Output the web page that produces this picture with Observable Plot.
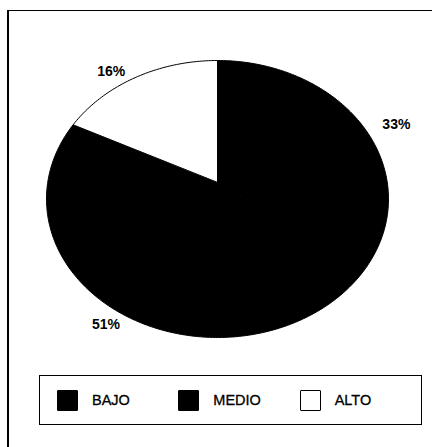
<!DOCTYPE html>
<html>
<head>
<meta charset="utf-8">
<script src="https://cdn.jsdelivr.net/npm/d3@7"></script>
<script src="https://cdn.jsdelivr.net/npm/@observablehq/plot@0.6"></script>
<style>
  html, body { margin: 0; padding: 0; background: #fff; overflow: hidden; }
  body { width: 432px; height: 447px; position: relative; font-family: "Liberation Sans", Arial, Helvetica, sans-serif; }
  #ftop { position: absolute; left: 7px; top: 10px; width: 425px; height: 1px; background: #000; }
  #fleft { position: absolute; left: 7px; top: 10px; width: 2px; height: 437px; background: #000; }
  #chart { position: absolute; left: 0; top: 0; }
  #legend { position: absolute; left: 39px; top: 375px; width: 364px; height: 48px; border: 1.5px solid #000; display: flex; align-items: center; padding-left: 17px; box-sizing: content-box; }
  .item { display: flex; align-items: center; width: 128px; font-size: 14.5px; color: #000; -webkit-text-stroke: 0.3px #000; }
  .sw { width: 21px; height: 21px; border: 1px solid #000; box-sizing: border-box; margin-right: 14px; border-radius: 1px; }
</style>
</head>
<body>
<div id="ftop"></div>
<div id="fleft"></div>
<div id="chart"></div>
<div id="legend"></div>
<script>
const categories = ["BAJO", "MEDIO", "ALTO"];
const values = [33, 51, 16];
const labels = ["33%", "51%", "16%"];
const colors = ["#000000", "#000000", "#ffffff"];

const data = categories.map((c, i) => ({key: c, value: values[i], label: labels[i]}));
const arcs = d3.pie().sort(null).value(d => d.value)(data);

const apexY = 0.12; // slight perspective of the tilted pie
const pts = [];
for (const a of arcs) {
  pts.push({key: a.data.key, x: 0, y: apexY});
  const n = Math.max(2, Math.ceil((a.endAngle - a.startAngle) / (Math.PI / 180)));
  for (let i = 0; i <= n; i++) {
    const t = a.startAngle + (a.endAngle - a.startAngle) * i / n;
    pts.push({key: a.data.key, x: Math.sin(t), y: Math.cos(t)});
  }
  pts.push({key: a.data.key, x: 0, y: apexY});
}

const k = 1.12;
const lab = arcs.map(a => {
  const m = (a.startAngle + a.endAngle) / 2;
  return {label: a.data.label, x: Math.sin(m) * k, y: Math.cos(m) * 1.05, right: Math.sin(m) >= 0};
});

const plot = Plot.plot({
  width: 432,
  height: 365,
  margin: 0,
  style: {background: "transparent", fontFamily: "Liberation Sans, Arial, sans-serif"},
  x: {domain: [-1, 1], range: [46, 388], axis: null},
  y: {domain: [-1, 1], range: [337, 60], axis: null},
  color: {domain: categories, range: colors},
  marks: [
    Plot.line(pts, {x: "x", y: "y", z: "key", fill: "key", stroke: "#000", strokeWidth: 1}),
    Plot.text(lab.filter(d => d.right), {x: "x", y: "y", text: "label", textAnchor: "start", fontSize: 14, fontWeight: "bold", fill: "#000"}),
    Plot.text(lab.filter(d => !d.right), {x: "x", y: "y", text: "label", textAnchor: "end", fontSize: 14, fontWeight: "bold", fill: "#000"})
  ]
});
document.getElementById("chart").appendChild(plot);

const legend = document.getElementById("legend");
categories.forEach((c, i) => {
  const it = document.createElement("div");
  it.className = "item";
  const sw = document.createElement("div");
  sw.className = "sw";
  sw.style.background = colors[i];
  const tx = document.createElement("span");
  tx.textContent = c;
  it.appendChild(sw);
  it.appendChild(tx);
  legend.appendChild(it);
});
</script>
</body>
</html>
